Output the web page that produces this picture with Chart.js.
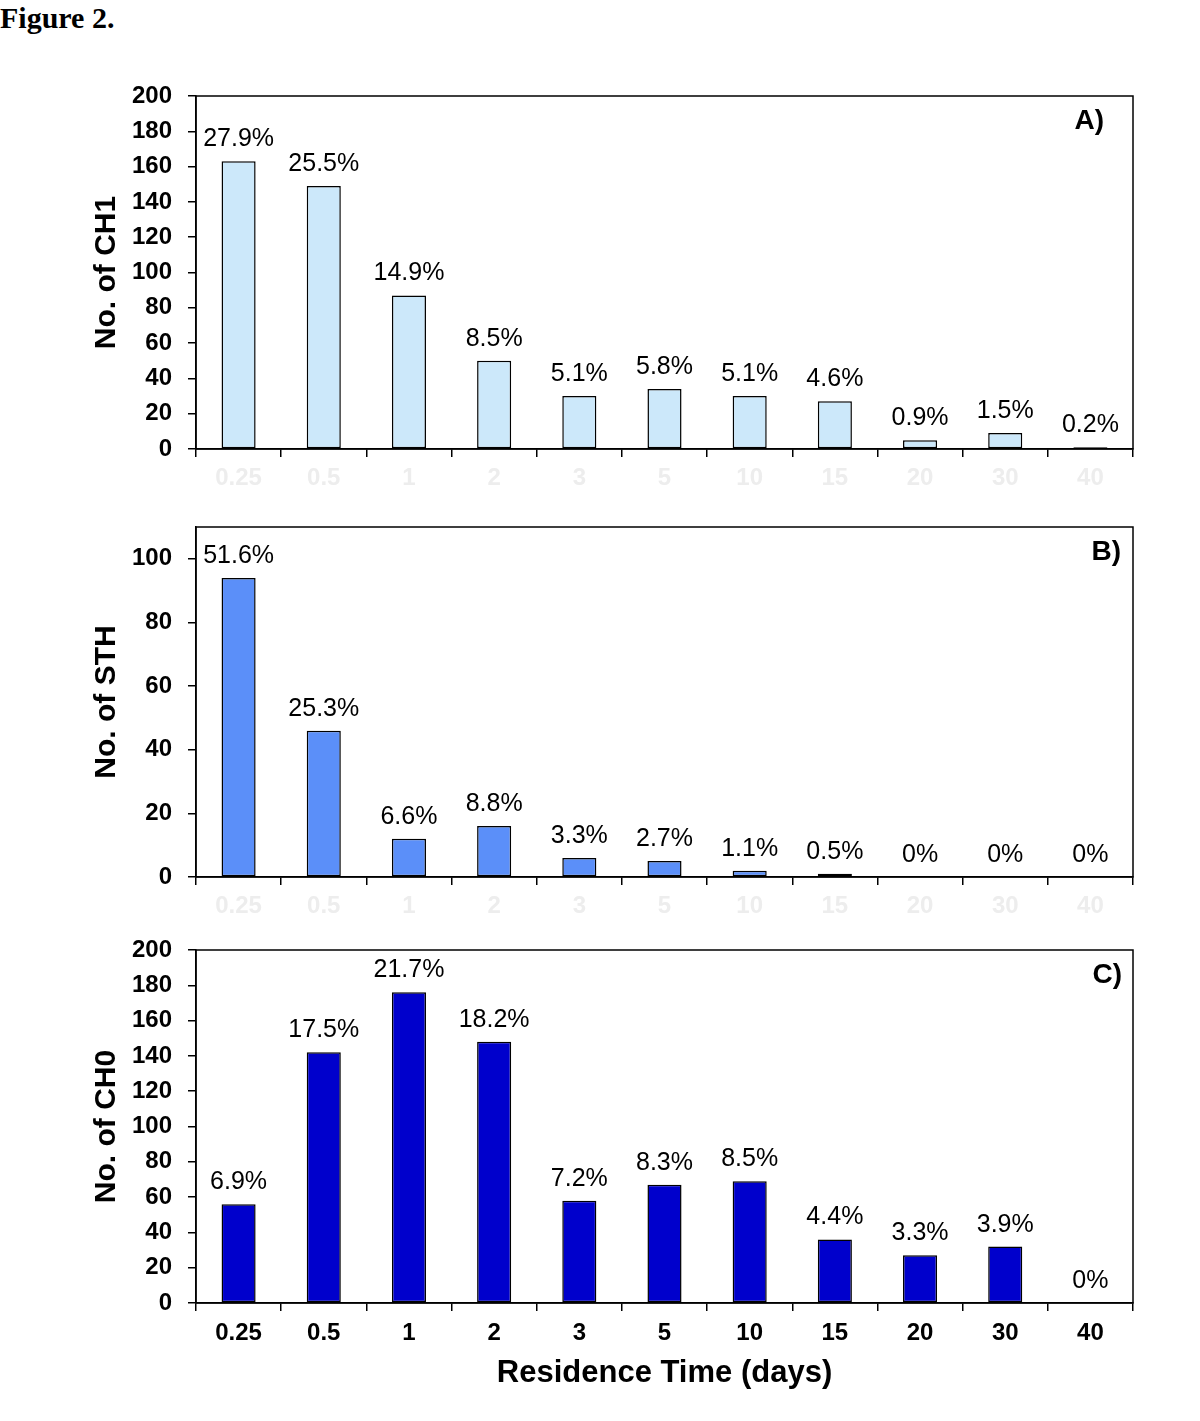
<!DOCTYPE html>
<html>
<head>
<meta charset="utf-8">
<script src="https://cdn.jsdelivr.net/npm/chart.js@4.4.0/dist/chart.umd.min.js"></script>
<style>
  body { margin: 0; background: #fff; width: 1200px; height: 1421px; position: relative; overflow: hidden; }
  #fig { position: absolute; left: 0; top: 3px; font: bold 30px/30px "Liberation Serif", "Times New Roman", serif; }
  .panel { position: absolute; left: 0; width: 1200px; }
</style>
</head>
<body>
<div id="fig">Figure 2.</div>
<div class="panel" style="top:80px;height:420px"><canvas id="chartA"></canvas></div>
<div class="panel" style="top:510px;height:420px"><canvas id="chartB"></canvas></div>
<div class="panel" style="top:930px;height:491px"><canvas id="chartC"></canvas></div>

<script>
// residence time classes (days)
const categories = ['0.25', '0.5', '1', '2', '3', '5', '10', '15', '20', '30', '40'];

// A) CH1
const ch1Counts = [163, 149, 87, 50, 30, 34, 30, 27, 5, 9, 1];
const ch1Pct = ['27.9%', '25.5%', '14.9%', '8.5%', '5.1%', '5.8%', '5.1%', '4.6%', '0.9%', '1.5%', '0.2%'];

// B) STH
const sthCounts = [94, 46, 12, 16, 6, 5, 2, 1, 0, 0, 0];
const sthPct = ['51.6%', '25.3%', '6.6%', '8.8%', '3.3%', '2.7%', '1.1%', '0.5%', '0%', '0%', '0%'];

// C) CH0
const ch0Counts = [56, 142, 176, 148, 58, 67, 69, 36, 27, 32, 0];
const ch0Pct = ['6.9%', '17.5%', '21.7%', '18.2%', '7.2%', '8.3%', '8.5%', '4.4%', '3.3%', '3.9%', '0%'];

const FONT = '"Liberation Sans", Arial, sans-serif';

// box around the plot, % labels above bars, panel letter
const frameAndLabels = {
  id: 'frameAndLabels',
  afterDatasetsDraw(chart, args, opts) {
    const ctx = chart.ctx;
    const area = chart.chartArea;
    ctx.save();
    ctx.strokeStyle = '#000';
    ctx.lineWidth = 1.5;
    ctx.strokeRect(area.left, area.top, area.right - area.left, area.bottom - area.top);

    ctx.font = '25px ' + FONT;
    ctx.fillStyle = '#000';
    ctx.textAlign = 'center';
    ctx.textBaseline = 'alphabetic';
    chart.getDatasetMeta(0).data.forEach((bar, i) => {
      ctx.fillText(opts.labels[i], bar.x, bar.y - 15);
    });

    ctx.font = 'bold 28px ' + FONT;
    ctx.textAlign = 'right';
    ctx.textBaseline = 'middle';
    ctx.fillText(opts.panel, area.right - opts.panelDx, area.top + 25);
    ctx.restore();
  }
};

function buildPanel(id, counts, pct, color, yMax, yTitle, panel, panelDx, cfg) {
  const ctx = document.getElementById(id).getContext('2d');
  return new Chart(ctx, {
    type: 'bar',
    data: {
      labels: categories,
      datasets: [{
        data: counts,
        backgroundColor: color,
        borderColor: '#000',
        borderWidth: 1.5,
        borderSkipped: false,
        barPercentage: 0.4,
        categoryPercentage: 1.0
      }]
    },
    options: {
      responsive: true,
      maintainAspectRatio: false,
      animation: false,
      layout: { padding: { left: 0, right: 67, top: cfg.top, bottom: 0 } },
      plugins: {
        legend: { display: false },
        tooltip: { enabled: false },
        frameAndLabels: { labels: pct, panel: panel, panelDx: panelDx }
      },
      scales: {
        x: {
          afterFit: (scale) => {
            scale.height = cfg.xHeight;
            scale.paddingLeft = 0;
            scale.paddingRight = 0;
          },
          grid: { drawOnChartArea: false, drawTicks: true, tickLength: 8, color: '#000', lineWidth: 1.5, offset: true },
          border: { display: true, color: '#000', width: 1.5 },
          ticks: {
            color: cfg.xTickColor,
            font: { family: FONT, size: 24, weight: 'bold' },
            padding: cfg.xPad,
            maxRotation: 0,
            autoSkip: false
          },
          title: cfg.xTitle ? {
            display: true,
            text: cfg.xTitle,
            color: '#000',
            font: { family: FONT, size: 31, weight: 'bold' },
            padding: { top: 0, bottom: 29 }
          } : { display: false }
        },
        y: {
          min: 0,
          max: yMax,
          afterFit: (scale) => {
            scale.width = 196;
            scale.paddingTop = 0;
            scale.paddingBottom = 0;
          },
          grid: { drawOnChartArea: false, drawTicks: true, tickLength: 8, color: '#000', lineWidth: 1.5 },
          border: { display: true, color: '#000', width: 1.5 },
          ticks: {
            stepSize: 20,
            includeBounds: false,
            color: '#000',
            font: { family: FONT, size: 24, weight: 'bold' },
            padding: 16
          },
          title: {
            display: true,
            text: yTitle,
            color: '#000',
            font: { family: FONT, size: 30, weight: 'bold' },
            padding: { top: 89, bottom: 0 }
          }
        }
      }
    },
    plugins: [frameAndLabels]
  });
}

buildPanel('chartA', ch1Counts, ch1Pct, '#cce8fa', 200, 'No. of CH1', 'A)', 29,
  { top: 16, xHeight: 51, xPad: 7, xTickColor: '#ededed' });
buildPanel('chartB', sthCounts, sthPct, '#5b8ff9', 110, 'No. of STH', 'B)', 12,
  { top: 17, xHeight: 53, xPad: 7, xTickColor: '#ededed' });
buildPanel('chartC', ch0Counts, ch0Pct, '#0000cc', 200, 'No. of CH0', 'C)', 11,
  { top: 20, xHeight: 118, xPad: 8, xTickColor: '#000', xTitle: 'Residence Time (days)' });
</script>
</body>
</html>
